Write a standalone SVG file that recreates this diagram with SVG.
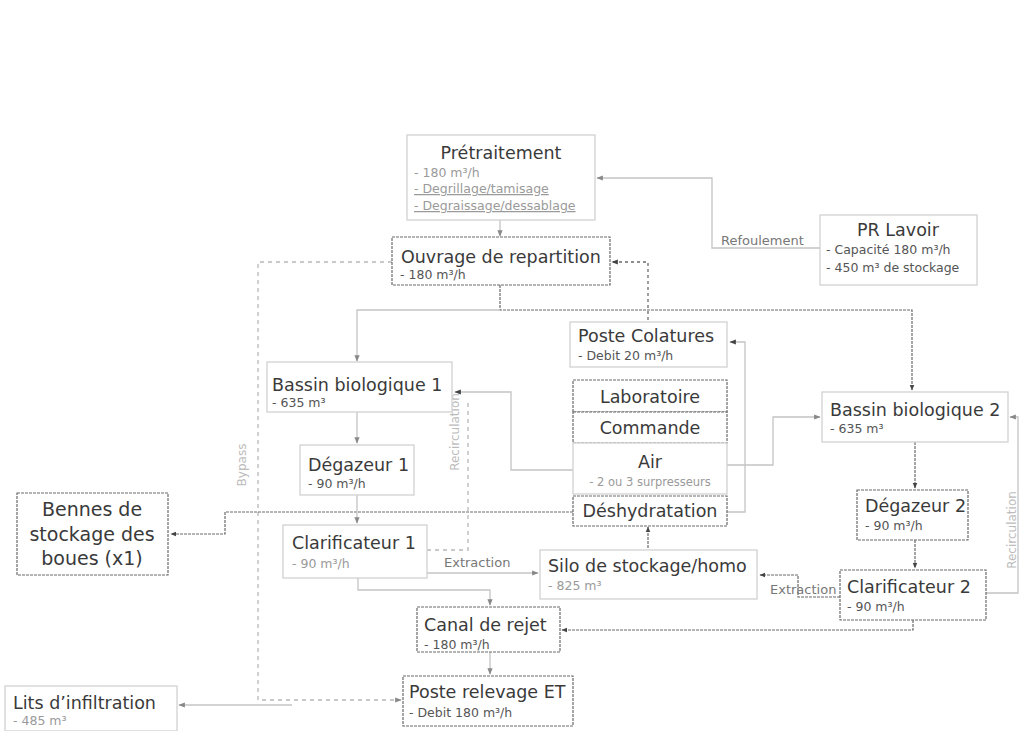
<svg xmlns="http://www.w3.org/2000/svg" width="1019" height="731" viewBox="0 0 1019 731">
<defs>
<style>
.bg{fill:#ffffff}
.box{fill:#ffffff;stroke:#d2d2d2;stroke-width:1.3}
.boxd{fill:#ffffff;stroke:#6a6a6a;stroke-width:1.2;stroke-dasharray:3 1}
.t{font-family:"DejaVu Sans",Verdana,sans-serif;font-size:17.5px;fill:#3a3a3a}
.tb{font-family:"DejaVu Sans",Verdana,sans-serif;font-size:19px;fill:#3a3a3a}
.s{font-family:"DejaVu Sans",Verdana,sans-serif;font-size:12.5px;fill:#9a9a9a}
.sd{font-family:"DejaVu Sans",Verdana,sans-serif;font-size:12.5px;fill:#555555}
.lbl{font-family:"DejaVu Sans",Verdana,sans-serif;font-size:13px;fill:#777777}
.lblg{font-family:"DejaVu Sans",Verdana,sans-serif;font-size:12px;fill:#bcbcbc}
.c{fill:none;stroke:#c4c4c4;stroke-width:1.3}
.cd{fill:none;stroke:#6a6a6a;stroke-width:1.2;stroke-dasharray:3 1}
.cdash{fill:none;stroke:#b8b8b8;stroke-width:1.3;stroke-dasharray:4 4}
.cdashd{fill:none;stroke:#6a6a6a;stroke-width:1.3;stroke-dasharray:3 3}
</style>
<marker id="a" viewBox="0 0 10 10" refX="9" refY="5" markerWidth="5" markerHeight="5" orient="auto-start-reverse">
<path d="M0,1 L10,5 L0,9 z" fill="#888888"/>
</marker>
<marker id="ad" viewBox="0 0 10 10" refX="9" refY="5" markerWidth="5" markerHeight="5" orient="auto-start-reverse">
<path d="M0,1 L10,5 L0,9 z" fill="#444444"/>
</marker>
</defs>
<rect class="bg" x="0" y="0" width="1019" height="731"/>

<g id="connectors">
<path class="c" d="M820,248 H712 V178 H597" marker-end="url(#a)"/>
<path class="c" d="M500,220 V236" marker-end="url(#a)"/>
<path class="cd" d="M500,285 V310 H912 V390" marker-end="url(#ad)"/>
<path class="c" d="M500,310 H357 V361" marker-end="url(#a)"/>
<path class="cdashd" d="M648,320 V262 H612" marker-end="url(#ad)"/>
<path class="cdash" d="M392,262 H258 V700 H401" marker-end="url(#a)"/>
<path class="c" d="M292,705 H179" marker-end="url(#a)"/>
<path class="c" d="M573,470 H511 V392 H455" marker-end="url(#ad)"/>
<path class="c" d="M727,465 H773 V417 H820" marker-end="url(#a)"/>
<path class="c" d="M727,512 H745 V342 H730" marker-end="url(#ad)"/>
<path class="cd" d="M573,512 H225 V534 H171" marker-end="url(#ad)"/>
<path class="cd" d="M648,548 V527" marker-end="url(#ad)"/>
<path class="c" d="M357,412 V443" marker-end="url(#a)"/>
<path class="c" d="M357,495 V523" marker-end="url(#a)"/>
<path class="cdash" d="M427,550 H468 V400"/>
<path class="c" d="M427,573 H538" marker-end="url(#a)"/>
<path class="c" d="M358,578 V590 H490 V605" marker-end="url(#a)"/>
<path class="c" d="M490,652 V674" marker-end="url(#a)"/>
<path class="cd" d="M915,442 V488" marker-end="url(#ad)"/>
<path class="cd" d="M915,540 V568" marker-end="url(#ad)"/>
<path class="cd" d="M840,597 H798 V575 H760" marker-end="url(#ad)"/>
<path class="cd" d="M913,620 V630 H562" marker-end="url(#ad)"/>
<path class="c" d="M986,593 H1018 V417 H1010" marker-end="url(#a)"/>
<text class="lbl" x="721" y="245">Refoulement</text>
<text class="lbl" x="444" y="567">Extraction</text>
<text class="lbl" x="770" y="594">Extraction</text>
<text class="lblg" transform="translate(246,465) rotate(-90)" text-anchor="middle">Bypass</text>
<text class="lblg" transform="translate(459,432) rotate(-90)" text-anchor="middle">Recirculation</text>
<text class="lblg" transform="translate(1016,530) rotate(-90)" text-anchor="middle">Recirculation</text>
</g>

<g id="pretraitement">
<rect class="box" x="407" y="135" width="188" height="85"/>
<text class="t" x="501" y="159" text-anchor="middle">Prétraitement</text>
<text class="s" x="414" y="177">- 180 m³/h</text>
<text class="s" x="414" y="193" text-decoration="underline">- Degrillage/tamisage</text>
<text class="s" x="414" y="210" text-decoration="underline">- Degraissage/dessablage</text>
</g>

<g id="pr-lavoir">
<rect class="box" x="820" y="215" width="157" height="70"/>
<text class="t" x="898" y="236" text-anchor="middle">PR Lavoir</text>
<text class="sd" x="826" y="254">- Capacité 180 m³/h</text>
<text class="sd" x="826" y="272">- 450 m³ de stockage</text>
</g>

<g id="ouvrage">
<rect class="boxd" x="392" y="237" width="218" height="48"/>
<text class="t" x="401" y="263">Ouvrage de repartition</text>
<text class="sd" x="400" y="279">- 180 m³/h</text>
</g>

<g id="poste-colatures">
<rect class="box" x="570" y="322" width="157" height="45"/>
<text class="t" x="578" y="342">Poste Colatures</text>
<text class="sd" x="578" y="360">- Debit 20 m³/h</text>
</g>

<g id="bassin1">
<rect class="box" x="267" y="362" width="185" height="50"/>
<text class="t" x="272" y="391">Bassin biologique 1</text>
<text class="sd" x="272" y="407">- 635 m³</text>
</g>

<g id="laboratoire">
<rect class="boxd" x="573" y="380" width="154" height="32"/>
<text class="t" x="650" y="403" text-anchor="middle">Laboratoire</text>
</g>
<g id="commande">
<rect class="boxd" x="573" y="412" width="154" height="31"/>
<text class="t" x="650" y="434" text-anchor="middle">Commande</text>
</g>
<g id="air">
<rect class="box" x="573" y="443" width="154" height="51"/>
<text class="t" x="650" y="468" text-anchor="middle">Air</text>
<text class="s" x="650" y="486" text-anchor="middle" style="font-size:11.5px">- 2 ou 3 surpresseurs</text>
</g>
<g id="deshydratation">
<rect class="boxd" x="573" y="496" width="154" height="30"/>
<text class="t" x="650" y="517" text-anchor="middle">Déshydratation</text>
</g>

<g id="bassin2">
<rect class="box" x="822" y="392" width="186" height="50"/>
<text class="t" x="830" y="416">Bassin biologique 2</text>
<text class="sd" x="830" y="433">- 635 m³</text>
</g>

<g id="degazeur1">
<rect class="box" x="300" y="445" width="114" height="50"/>
<text class="t" x="308" y="471">Dégazeur 1</text>
<text class="sd" x="308" y="488">- 90 m³/h</text>
</g>

<g id="degazeur2">
<rect class="boxd" x="857" y="490" width="111" height="50"/>
<text class="t" x="865" y="512">Dégazeur 2</text>
<text class="sd" x="865" y="530">- 90 m³/h</text>
</g>

<g id="bennes">
<rect class="boxd" x="17" y="493" width="151" height="82"/>
<text class="tb" x="92" y="516" text-anchor="middle">Bennes de</text>
<text class="tb" x="92" y="541" text-anchor="middle">stockage des</text>
<text class="tb" x="92" y="565" text-anchor="middle">boues (x1)</text>
</g>

<g id="clarificateur1">
<rect class="box" x="283" y="525" width="144" height="53"/>
<text class="t" x="292" y="549">Clarificateur 1</text>
<text class="s" x="292" y="568">- 90 m³/h</text>
</g>

<g id="silo">
<rect class="box" x="540" y="550" width="217" height="49"/>
<text class="t" x="548" y="572">Silo de stockage/homo</text>
<text class="s" x="548" y="590">- 825 m³</text>
</g>

<g id="clarificateur2">
<rect class="boxd" x="840" y="570" width="146" height="50"/>
<text class="t" x="847" y="593">Clarificateur 2</text>
<text class="sd" x="847" y="611">- 90 m³/h</text>
</g>

<g id="canal">
<rect class="boxd" x="417" y="607" width="143" height="45"/>
<text class="t" x="424" y="631">Canal de rejet</text>
<text class="sd" x="424" y="649">- 180 m³/h</text>
</g>

<g id="poste-relevage">
<rect class="boxd" x="403" y="676" width="170" height="50"/>
<text class="t" x="409" y="698">Poste relevage ET</text>
<text class="sd" x="409" y="717">- Debit 180 m³/h</text>
</g>

<g id="lits">
<rect class="box" x="5" y="686" width="172" height="45"/>
<text class="t" x="13" y="709">Lits d’infiltration</text>
<text class="s" x="13" y="725">- 485 m³</text>
</g>
</svg>
